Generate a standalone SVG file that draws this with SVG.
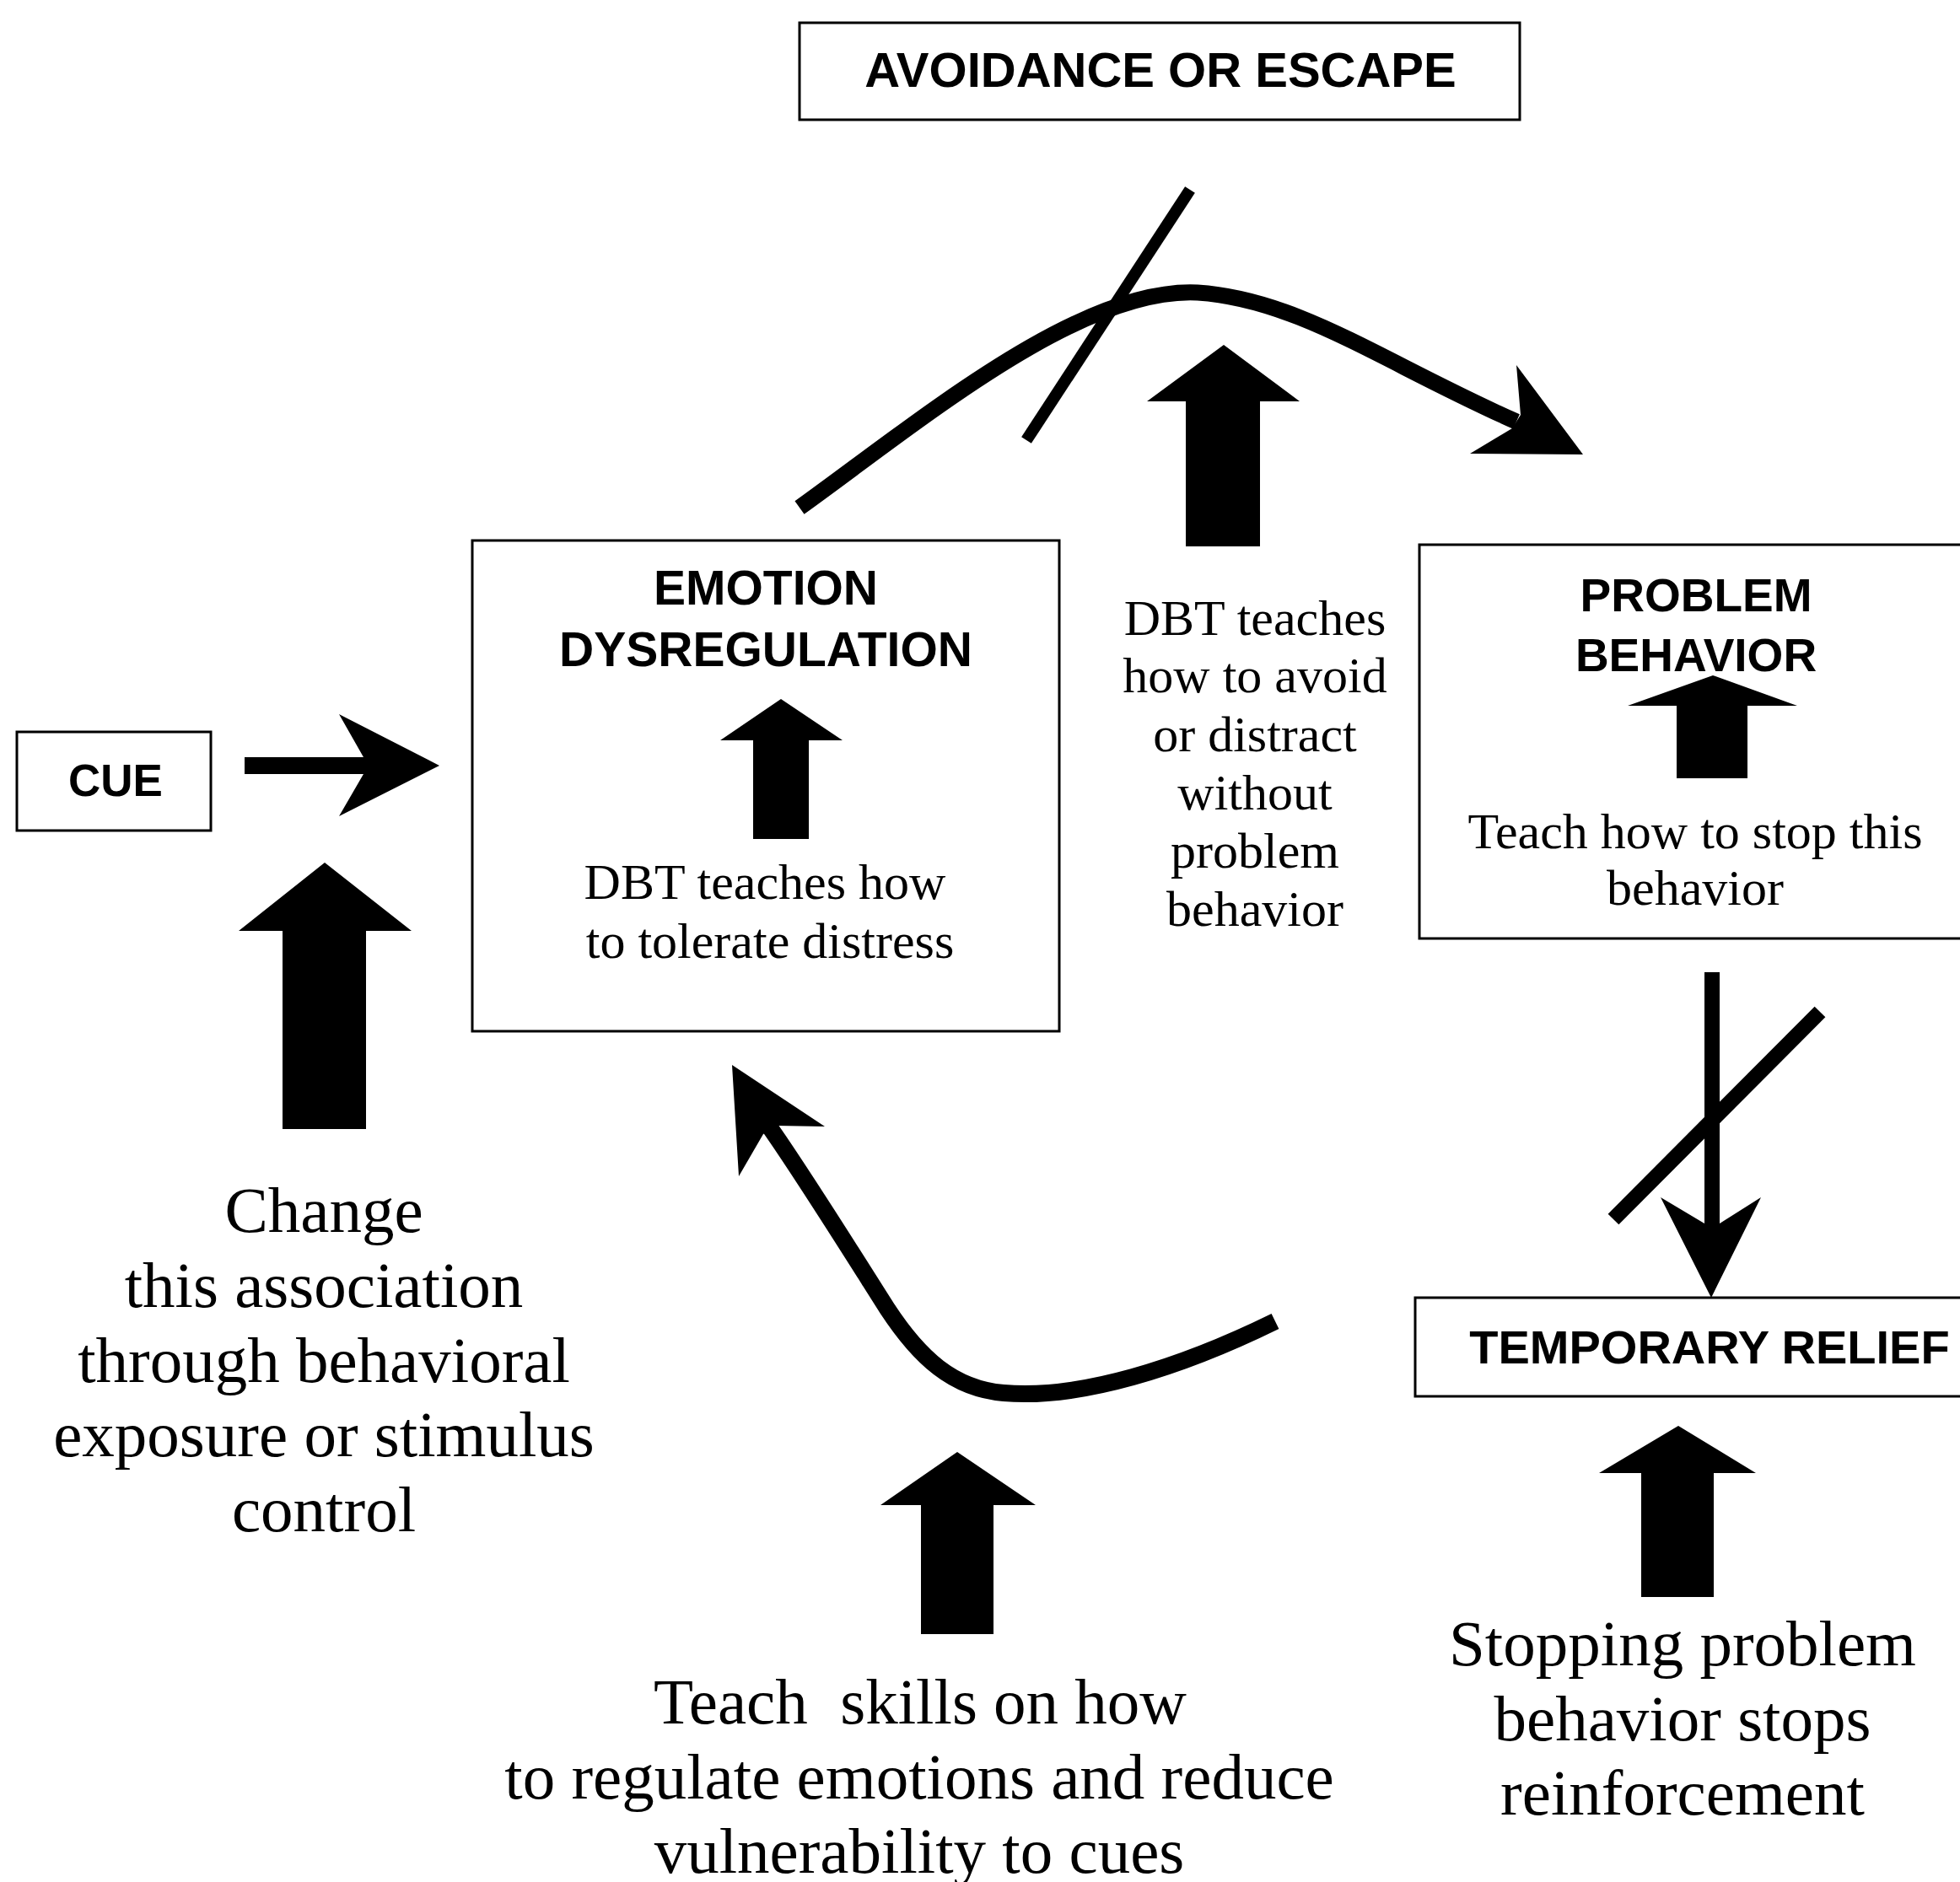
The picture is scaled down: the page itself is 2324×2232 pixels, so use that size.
<svg xmlns="http://www.w3.org/2000/svg" width="2324" height="2232" viewBox="0 0 2324 2232">
<style>
.box{fill:#fff;stroke:#000;stroke-width:3}
.lbl{font-family:"Liberation Sans",Arial,sans-serif;font-weight:bold;fill:#000;text-anchor:middle}
.note{font-family:"Liberation Serif","Times New Roman",serif;fill:#000;text-anchor:middle}
.blk{fill:#000;stroke:none}
.line{fill:none;stroke:#000;stroke-linecap:butt}
</style>
<rect x="0" y="0" width="2324" height="2232" fill="#fff"/>

<g id="node-avoidance">
<rect class="box" x="948" y="27" width="854" height="115"/>
<text class="lbl" x="1376" y="103" font-size="58">AVOIDANCE OR ESCAPE</text>
</g>

<g id="node-cue">
<rect class="box" x="20" y="868" width="230" height="117"/>
<text class="lbl" x="137" y="944" font-size="53">CUE</text>
</g>

<g id="node-emotion">
<rect class="box" x="560" y="641" width="696" height="582"/>
<text class="lbl" x="908" y="717" font-size="57">EMOTION</text>
<text class="lbl" x="908" y="790" font-size="57">DYSREGULATION</text>
<polygon class="blk" points="926,829 999,878 959,878 959,995 893,995 893,878 854,878"/>
<text class="note" x="907" y="1066" font-size="60">DBT teaches how</text>
<text class="note" x="913" y="1136" font-size="60">to tolerate distress</text>
</g>

<g id="node-problem">
<rect class="box" x="1683" y="646" width="720" height="467"/>
<text class="lbl" x="2011" y="725" font-size="55">PROBLEM</text>
<text class="lbl" x="2011" y="796" font-size="55">BEHAVIOR</text>
<polygon class="blk" points="2031,801 2131,837 2072,837 2072,923 1988,923 1988,837 1930,837"/>
<text class="note" x="2010" y="1006" font-size="60">Teach how to stop this</text>
<text class="note" x="2010" y="1073" font-size="60">behavior</text>
</g>

<g id="node-relief">
<rect class="box" x="1678" y="1539" width="720" height="117"/>
<text class="lbl" x="2027" y="1617" font-size="56">TEMPORARY RELIEF</text>
</g>

<g id="note-avoid">
<polygon class="blk" points="1451,409 1541,476 1494,476 1494,648 1406,648 1406,476 1360,476"/>
<text class="note" x="1488" y="753" font-size="60">DBT teaches</text>
<text class="note" x="1488" y="821" font-size="60">how to avoid</text>
<text class="note" x="1488" y="891" font-size="60">or distract</text>
<text class="note" x="1488" y="960" font-size="60">without</text>
<text class="note" x="1488" y="1029" font-size="60">problem</text>
<text class="note" x="1488" y="1098" font-size="60">behavior</text>
</g>

<g id="note-cue">
<polygon class="blk" points="385,1023 488,1104 434,1104 434,1339 335,1339 335,1104 283,1104"/>
<text class="note" x="384" y="1461" font-size="77">Change</text>
<text class="note" x="384" y="1550" font-size="77">this association</text>
<text class="note" x="384" y="1639" font-size="77">through behavioral</text>
<text class="note" x="384" y="1727" font-size="77">exposure or stimulus</text>
<text class="note" x="384" y="1816" font-size="77">control</text>
</g>

<g id="note-regulate">
<polygon class="blk" points="1135,1722 1228,1785 1178,1785 1178,1938 1092,1938 1092,1785 1044,1785"/>
<text class="note" x="1091" y="2044" font-size="77">Teach&#160; skills on how</text>
<text class="note" x="1090" y="2133" font-size="77">to regulate emotions and reduce</text>
<text class="note" x="1090" y="2221" font-size="77">vulnerability to cues</text>
</g>

<g id="note-reinforcement">
<polygon class="blk" points="1990,1691 2082,1747 2032,1747 2032,1894 1946,1894 1946,1747 1896,1747"/>
<text class="note" x="1995" y="1975" font-size="77">Stopping problem</text>
<text class="note" x="1995" y="2064" font-size="77">behavior stops</text>
<text class="note" x="1995" y="2152" font-size="77">reinforcement</text>
</g>

<g id="connectors">
<!-- cue to emotion -->
<polygon class="blk" points="290,898 431,898 402,847 521,908 402,968 431,918 290,918"/>
<!-- emotion to problem via avoidance (blocked) -->
<path class="line" stroke-width="19" d="M948,602 C1090,500 1280,340 1420,347 C1540,355 1640,430 1798,500"/>
<polygon class="blk" points="1798,433 1877,539 1743,538 1793,508 1803,492"/>
<line class="line" stroke-width="14" x1="1411" y1="225" x2="1217" y2="522"/>
<!-- problem to relief (blocked) -->
<rect class="blk" x="2021" y="1153" width="18" height="300"/>
<polygon class="blk" points="1969,1420 2021,1451 2039,1451 2088,1420 2029,1539"/>
<line class="line" stroke-width="18" x1="2158" y1="1200" x2="1913" y2="1446"/>
<!-- relief back to emotion -->
<path class="line" stroke-width="20" d="M1512,1567 C1400,1622 1280,1660 1190,1652 C1130,1647 1090,1610 1052,1552 C1000,1470 950,1390 912,1336"/>
<polygon class="blk" points="868,1263 978,1336 920,1335 905,1345 876,1395"/>
</g>
</svg>
